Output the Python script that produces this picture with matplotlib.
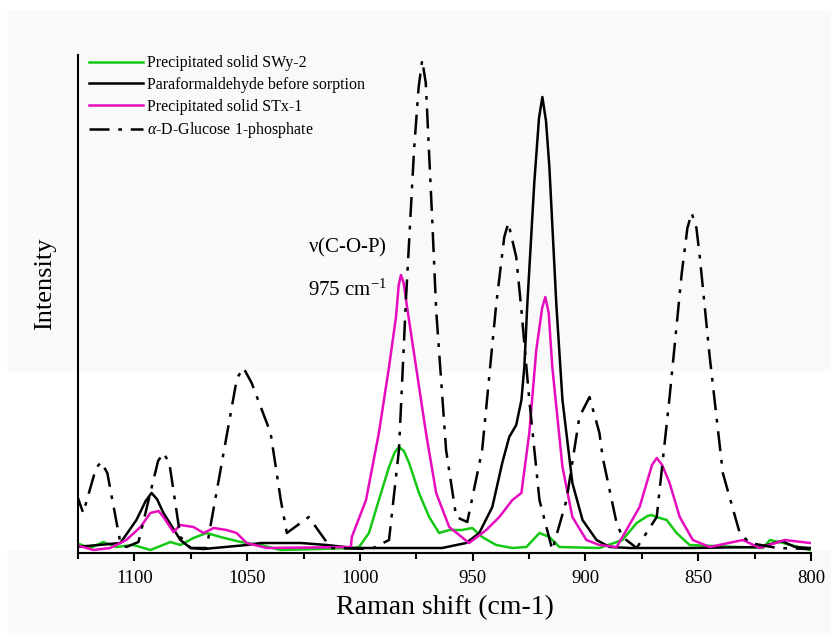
import matplotlib
matplotlib.use("Agg")
import matplotlib.pyplot as plt
from matplotlib.patches import Rectangle
import numpy as np

plt.rcParams['font.family'] = ['Liberation Serif', 'DejaVu Serif']
plt.rcParams['mathtext.fontset'] = 'custom'
plt.rcParams['mathtext.rm'] = 'Liberation Serif'
plt.rcParams['mathtext.it'] = 'Liberation Serif:italic'

# Raman shift (cm-1) and intensity (arbitrary units)
swy_x = [1125.8, 1119.6, 1113.8, 1108.0, 1100.4, 1092.9, 1084.0, 1079.6, 1073.8, 1068.0,
         1061.8, 1052.9, 1044.0, 1035.1, 1002.7, 1000.4, 996.0, 991.6, 987.1, 984.5,
         982.7, 980.5, 978.2, 973.8, 969.3, 964.9, 960.4, 954.7, 950.2, 945.8,
         939.6, 932.4, 926.2, 920.4, 916.0, 911.6, 893.8, 883.6, 877.3, 872.5,
         870.7, 868.5, 864.0, 859.6, 853.8, 821.3, 818.2, 812.4, 800.4]
swy_y = [10, 5, 11, 6, 8, 3, 11, 8, 15, 20,
         16, 11, 8, 3, 5, 6, 20, 53, 86, 101,
         106, 102, 90, 60, 36, 20, 23, 23, 25, 16,
         8, 5, 6, 20, 16, 6, 5, 13, 30, 37,
         38, 36, 33, 20, 8, 5, 13, 10, 3]

para_x = [1125.8, 1106.2, 1099.1, 1095.0, 1092.4, 1090.0, 1087.1, 1079.6, 1075.1, 1069.3,
          1050.2, 1044.0, 1026.2, 1014.7, 1002.7, 963.6, 952.9, 947.1, 941.3, 936.9,
          933.8, 930.7, 928.4, 927.1, 925.8, 922.7, 920.6, 919.1, 917.5, 916.0,
          912.9, 910.2, 905.8, 901.3, 895.1, 889.3, 880.4, 853.8, 822.7, 812.9,
          807.1, 800.4]
para_y = [6, 10, 33, 52, 60, 54, 40, 13, 5, 4,
          8, 10, 10, 8, 5, 5, 10, 20, 46, 90,
          116, 128, 153, 186, 248, 370, 435, 456, 432, 386,
          248, 153, 70, 33, 13, 6, 5, 5, 6, 12,
          6, 5]

stx_x = [1125.8, 1118.2, 1110.7, 1103.6, 1097.3, 1092.9, 1089.3, 1087.1, 1082.7, 1079.6,
         1073.8, 1069.3, 1064.9, 1059.1, 1054.7, 1050.2, 1041.3, 1004.0, 1003.6, 997.3,
         991.6, 987.1, 984.0, 982.8, 981.8, 980.6, 979.1, 975.1, 970.7, 966.2,
         960.4, 951.6, 944.0, 938.2, 932.4, 928.4, 924.9, 921.8, 919.2, 917.8,
         916.3, 914.7, 910.2, 905.8, 899.6, 893.8, 886.2, 883.6, 876.0, 870.5,
         868.4, 866.0, 862.7, 858.2, 852.4, 844.9, 830.2, 822.7, 811.6, 800.4]
stx_y = [8, 3, 5, 13, 26, 40, 42, 36, 21, 28,
         26, 20, 25, 23, 20, 10, 5, 6, 16, 53,
         120, 186, 236, 268, 278, 270, 246, 186, 120, 60,
         26, 10, 23, 36, 53, 60, 120, 203, 245, 256,
         240, 186, 86, 36, 13, 8, 6, 16, 46, 88,
         95, 88, 70, 36, 13, 6, 13, 5, 13, 10]

glc_x = [1125.8, 1122.7, 1117.0, 1114.7, 1112.0, 1106.2, 1103.6, 1098.2, 1089.5, 1087.1,
         1084.5, 1079.6, 1075.1, 1068.0, 1054.5, 1051.6, 1048.0, 1039.6, 1035.1, 1032.4,
         1022.7, 1012.9, 995.0, 987.1, 982.7, 979.6, 976.0, 974.0, 972.4, 970.8,
         968.0, 966.2, 961.8, 957.3, 952.4, 945.8, 939.6, 936.0, 934.2, 930.7,
         928.4, 924.9, 920.4, 914.7, 908.4, 902.7, 898.2, 893.8, 892.4, 886.2,
         883.6, 877.3, 868.4, 862.7, 857.3, 854.8, 852.9, 850.8, 849.3, 844.9,
         839.1, 831.6, 827.1, 815.0, 800.4]
glc_y = [60, 40, 85, 91, 80, 10, 6, 11, 92, 100,
         90, 16, 5, 5, 175, 185, 170, 120, 53, 20,
         36, 5, 4, 13, 103, 253, 403, 465, 493, 470,
         336, 243, 103, 36, 31, 103, 248, 316, 330, 296,
         243, 153, 53, 3, 53, 136, 156, 120, 96, 30,
         16, 5, 36, 156, 280, 325, 340, 325, 296, 196,
         80, 20, 10, 5, 4]

labels = ['Precipitated solid SWy-2', 'Paraformaldehyde before sorption',
          'Precipitated solid STx-1', r'$\alpha$-D-Glucose 1-phosphate']

fig = plt.figure(figsize=(8.31, 6.33), dpi=100, facecolor='white')
# light grey backdrop of the original scan
fig.patches.append(Rectangle((8 / 831, 1 - 370 / 633), 1, (370 - 11) / 633,
                             transform=fig.transFigure, color='#f9f9f9', zorder=-10))
fig.patches.append(Rectangle((8 / 831, 0), 1, 1 - 550 / 633,
                             transform=fig.transFigure, color='#f9f9f9', zorder=-10))

ax = fig.add_axes([78 / 831, 1 - 553 / 633, (811 - 78) / 831, (553 - 55) / 633])
ax.patch.set_alpha(0)

ax.plot(swy_x, swy_y, color='#14c814', lw=1.8, label=labels[0])
ax.plot(para_x, para_y, color='black', lw=1.8, label=labels[1])
ax.plot(stx_x, stx_y, color='#e60cbe', lw=1.8, label=labels[2])
ax.plot(glc_x, glc_y, color='black', lw=1.8, ls=(0, (8, 3.5, 1.5, 3.5)), label=labels[3])

ax.set_xlim(1125, 800)
ax.set_ylim(0, 498)
ax.set_xticks([1100, 1050, 1000, 950, 900, 850, 800])
ax.set_xticks(np.arange(825, 1126, 50), minor=True)
ax.set_yticks([])
ax.tick_params(axis='x', which='major', direction='out', length=6, width=1.5,
               labelsize=13.5, pad=6)
ax.tick_params(axis='x', which='minor', direction='out', length=4, width=1.5)
for s in ['top', 'right']:
    ax.spines[s].set_visible(False)
for s in ['left', 'bottom']:
    ax.spines[s].set_linewidth(1.5)

ax.set_xlabel('Raman shift (cm-1)', fontsize=20, labelpad=6)
ax.set_ylabel('Intensity', fontsize=19)
ax.yaxis.set_label_coords(-0.03, 0.54)

fig.text(308 / 831, 1 - 252 / 633, r'$\mathregular{\nu}$(C-O-P)', fontsize=15)
fig.text(308 / 831, 1 - 296 / 633, r'975 cm$^{\mathregular{-1}}$', fontsize=15)

leg = ax.legend(loc='upper left', bbox_to_anchor=(0.0, 1.022), frameon=False,
                fontsize=11.5, handlelength=3.4, handletextpad=0.2,
                labelspacing=0.36, borderaxespad=0.3)

fig.savefig('out.png', dpi=100, facecolor=fig.get_facecolor())
